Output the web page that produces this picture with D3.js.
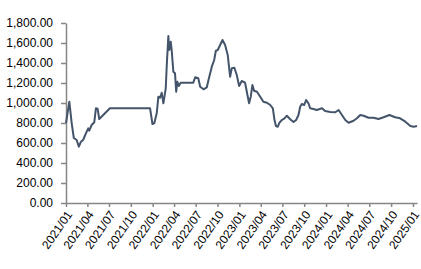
<!DOCTYPE html>
<html>
<head>
<meta charset="utf-8">
<script src="https://cdn.jsdelivr.net/npm/d3@7"></script>
<style>
  body { margin: 0; background: #fff; }
  svg { display: block; font-family: "Liberation Sans", Arial, sans-serif; }
</style>
</head>
<body>
<script>
// price series (date, value)
var dates = [
  "2021-01-01","2021-01-15","2021-01-25","2021-02-03","2021-02-15","2021-02-24","2021-03-05","2021-03-14",
  "2021-03-29","2021-04-05","2021-04-09","2021-04-19","2021-04-30","2021-05-07","2021-05-14","2021-05-21",
  "2021-07-05","2021-12-21","2021-12-31","2022-01-08","2022-01-18","2022-01-25","2022-02-01","2022-02-08",
  "2022-02-15","2022-02-25","2022-03-01","2022-03-08","2022-03-12","2022-03-18","2022-03-22","2022-03-29",
  "2022-04-05","2022-04-10","2022-04-15","2022-04-21","2022-04-29","2022-06-21","2022-06-29","2022-07-12",
  "2022-07-20","2022-08-03","2022-08-17","2022-08-24","2022-09-07","2022-09-17","2022-09-24","2022-10-02",
  "2022-10-12","2022-10-22","2022-11-02","2022-11-13","2022-11-23","2022-11-30","2022-12-11","2022-12-21",
  "2022-12-31","2023-01-11","2023-01-25","2023-02-04","2023-02-11","2023-02-18","2023-02-25","2023-03-04",
  "2023-03-16","2023-03-30","2023-04-12","2023-04-27","2023-05-11","2023-05-22","2023-05-29","2023-06-04",
  "2023-06-12","2023-06-19","2023-06-29","2023-07-10","2023-07-20","2023-08-03","2023-08-17","2023-08-28",
  "2023-09-07","2023-09-14","2023-09-21","2023-10-01","2023-10-09","2023-10-19","2023-10-26","2023-11-09",
  "2023-11-23","2023-12-15","2023-12-28","2024-01-19","2024-02-09","2024-02-23","2024-03-08","2024-03-22",
  "2024-04-05","2024-04-26","2024-05-10","2024-05-24","2024-06-07","2024-06-28","2024-07-19","2024-08-09",
  "2024-08-30","2024-09-24","2024-10-18","2024-11-08","2024-11-30","2024-12-21","2025-01-04","2025-01-18"
];
var values = [
  800,1013,797,650,630,563,613,630,
  713,747,723,780,807,947,943,840,
  947,947,790,800,897,1063,1053,1103,
  997,1147,1363,1670,1530,1613,1530,1313,
  1297,1113,1213,1170,1203,1203,1257,1247,
  1163,1137,1157,1230,1363,1430,1523,1530,
  1580,1630,1580,1480,1263,1347,1353,1280,
  1170,1220,1203,1080,997,1063,1180,1123,
  1113,1063,1013,1003,980,947,830,770,
  763,803,830,847,873,837,810,830,
  880,963,990,980,1030,997,947,940,
  930,947,920,910,907,930,880,830,
  803,823,847,880,873,853,853,840,
  857,880,857,847,813,770,763,770
];

var yTicks = [0, 200, 400, 600, 800, 1000, 1200, 1400, 1600, 1800];
var xTickLabels = [
  "2021/01","2021/04","2021/07","2021/10","2022/01","2022/04","2022/07","2022/10",
  "2023/01","2023/04","2023/07","2023/10","2024/01","2024/04","2024/07","2024/10","2025/01"
];

var width = 421,
    height = 269;

var parseDate = d3.timeParse("%Y-%m-%d"),
    parseTick = d3.timeParse("%Y/%m");

var data = dates.map(function(d, i) { return { date: parseDate(d), value: values[i] }; });

var svg = d3.select("body")
  .append("svg")
    .attr("width", width)
    .attr("height", height);

var x = d3.scaleTime()
    .domain([parseDate("2021-01-01"), parseDate("2025-01-18")])
    .range([66, 417]);

var y = d3.scaleLinear()
    .domain([0, 1800])
    .range([203, 23]);

// y axis
var yAxis = svg.append("g")
    .attr("transform", "translate(66,0)")
    .call(d3.axisLeft(y)
      .tickValues(yTicks)
      .tickSize(5)
      .tickSizeOuter(0)
      .tickPadding(8)
      .tickFormat(d3.format(",.2f")));

yAxis.selectAll("text")
    .attr("font-size", "12px")
    .attr("font-family", "Liberation Sans, Arial, sans-serif")
    .attr("fill", "#000");

// x axis
var xAxis = svg.append("g")
    .attr("transform", "translate(0,203)")
    .call(d3.axisBottom(x)
      .tickValues(xTickLabels.map(parseTick))
      .tickSize(4)
      .tickSizeOuter(0)
      .tickFormat(d3.timeFormat("%Y/%m")));

xAxis.selectAll("text")
    .attr("font-size", "12px")
    .attr("font-family", "Liberation Sans, Arial, sans-serif")
    .attr("fill", "#000")
    .attr("text-anchor", "end")
    .attr("y", 0)
    .attr("dy", "0.35em")
    .attr("transform", "translate(3,9) rotate(-55)");

svg.selectAll(".domain, .tick line")
    .attr("stroke", "#868686")
    .attr("stroke-width", 1.5);

// price line
var line = d3.line()
    .x(function(d) { return x(d.date); })
    .y(function(d) { return y(d.value); });

svg.append("path")
    .datum(data)
    .attr("fill", "none")
    .attr("stroke", "#44546A")
    .attr("stroke-width", 2)
    .attr("stroke-linejoin", "round")
    .attr("d", line);
</script>
</body>
</html>
